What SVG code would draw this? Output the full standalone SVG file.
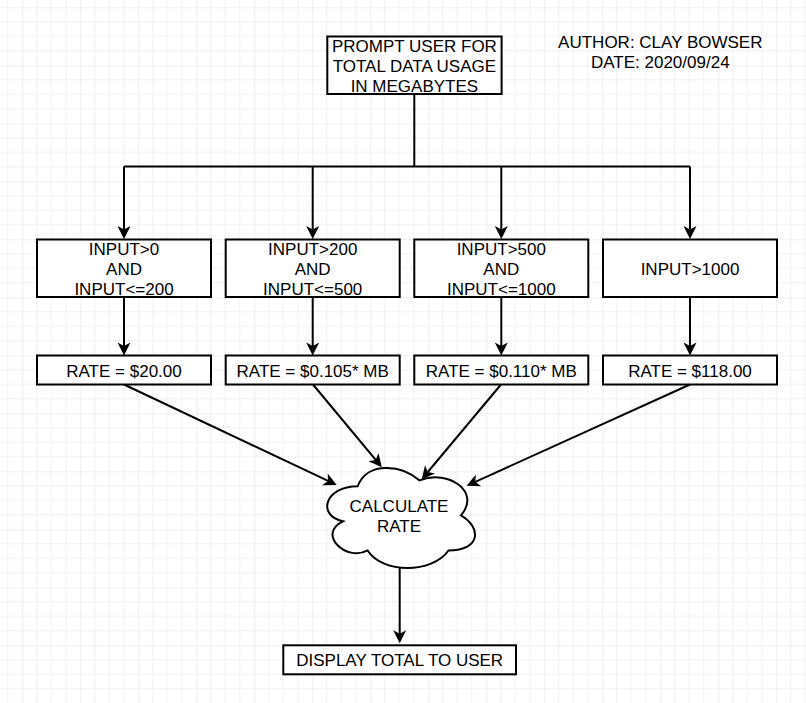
<svg xmlns="http://www.w3.org/2000/svg" width="806" height="703" viewBox="0 0 806 703">
<style>
.box{fill:#fff;stroke:#000;stroke-width:2}
.t{font-family:"Liberation Sans",Arial,sans-serif;font-size:17px;fill:#000;text-anchor:middle}
.e{fill:none;stroke:#000;stroke-width:2}
.a{marker-end:url(#arr)}
</style>
<defs>
<pattern id="grid" patternUnits="userSpaceOnUse" x="22.3" y="7.3" width="58" height="58">
<path d="M14.5,0V58M29,0V58M43.5,0V58M0,14.5H58M0,29H58M0,43.5H58" stroke="#f0f0f0" stroke-width="1" fill="none"/>
<path d="M0,0V58M0,0H58" stroke="#e0e0e0" stroke-width="1" fill="none"/>
</pattern>
<marker id="arr" markerUnits="userSpaceOnUse" markerWidth="14" markerHeight="14" refX="3.5" refY="6.5" orient="auto" overflow="visible">
<path d="M0,0 L13,6.5 L0,13 L3.5,6.5 Z" fill="#000"/>
</marker>
</defs>
<rect width="806" height="703" fill="#fff"/>
<rect width="806" height="703" fill="url(#grid)"/>

<g id="connectors">
<path class="e" d="M414.3,94V166.5"/>
<path class="e" d="M124,166.5H690"/>
<path class="e a" d="M124,166.5V229.5"/>
<path class="e a" d="M312.7,166.5V229.5"/>
<path class="e a" d="M501.3,166.5V229.5"/>
<path class="e a" d="M690,166.5V229.5"/>
<path class="e a" d="M124,297V346"/>
<path class="e a" d="M312.7,297V346"/>
<path class="e a" d="M501.3,297V346"/>
<path class="e a" d="M690,297V346"/>
<path class="e a" d="M124,384.5L328.1,480.9"/>
<path class="e a" d="M313,384.5L375.7,459.9"/>
<path class="e a" d="M501,384.5L427.8,472"/>
<path class="e a" d="M690,384.5L475.3,481.8"/>
<path class="e a" d="M399.7,568V633.8"/>
</g>

<g id="prompt">
<rect class="box" x="327.3" y="36.5" width="174.3" height="57.5"/>
<text class="t" x="414.4" y="51.5">PROMPT USER FOR</text>
<text class="t" x="414.4" y="71.5">TOTAL DATA USAGE</text>
<text class="t" x="414.4" y="91.5">IN MEGABYTES</text>
</g>

<g id="author">
<text class="t" x="660.3" y="48">AUTHOR: CLAY BOWSER</text>
<text class="t" x="660.3" y="68">DATE: 2020/09/24</text>
</g>

<g id="cond1">
<rect class="box" x="37" y="239.5" width="174" height="57.5"/>
<text class="t" x="124" y="255">INPUT&gt;0</text>
<text class="t" x="124" y="275">AND</text>
<text class="t" x="124" y="295">INPUT&lt;=200</text>
</g>
<g id="cond2">
<rect class="box" x="225.7" y="239.5" width="174" height="57.5"/>
<text class="t" x="312.7" y="255">INPUT&gt;200</text>
<text class="t" x="312.7" y="275">AND</text>
<text class="t" x="312.7" y="295">INPUT&lt;=500</text>
</g>
<g id="cond3">
<rect class="box" x="414.3" y="239.5" width="174" height="57.5"/>
<text class="t" x="501.3" y="255">INPUT&gt;500</text>
<text class="t" x="501.3" y="275">AND</text>
<text class="t" x="501.3" y="295">INPUT&lt;=1000</text>
</g>
<g id="cond4">
<rect class="box" x="603" y="239.5" width="174" height="57.5"/>
<text class="t" x="690" y="275">INPUT&gt;1000</text>
</g>

<g id="rate1">
<rect class="box" x="37" y="355.5" width="174" height="29"/>
<text class="t" x="124" y="377">RATE = $20.00</text>
</g>
<g id="rate2">
<rect class="box" x="225.7" y="355.5" width="174" height="29"/>
<text class="t" x="312.7" y="377">RATE = $0.105* MB</text>
</g>
<g id="rate3">
<rect class="box" x="414.3" y="355.5" width="174" height="29"/>
<text class="t" x="501.3" y="377">RATE = $0.110* MB</text>
</g>
<g id="rate4">
<rect class="box" x="603" y="355.5" width="174" height="29"/>
<text class="t" x="690" y="377">RATE = $118.00</text>
</g>

<g id="calculate">
<path class="box" d="M357.75,486.28 C324.75,486.28 316.5,515.45 342.9,521.29 C316.5,534.12 346.2,562.13 367.65,550.46 C382.5,573.8 432,573.8 448.5,550.46 C481.5,550.46 481.5,527.12 460.88,515.45 C481.5,492.11 448.5,468.77 419.63,480.44 C399,462.94 366,462.94 357.75,486.28 Z"/>
<text class="t" x="399" y="511.7">CALCULATE</text>
<text class="t" x="399" y="531.7">RATE</text>
</g>

<g id="display">
<rect class="box" x="283.3" y="645.3" width="232.7" height="29"/>
<text class="t" x="399.7" y="666">DISPLAY TOTAL TO USER</text>
</g>
</svg>
